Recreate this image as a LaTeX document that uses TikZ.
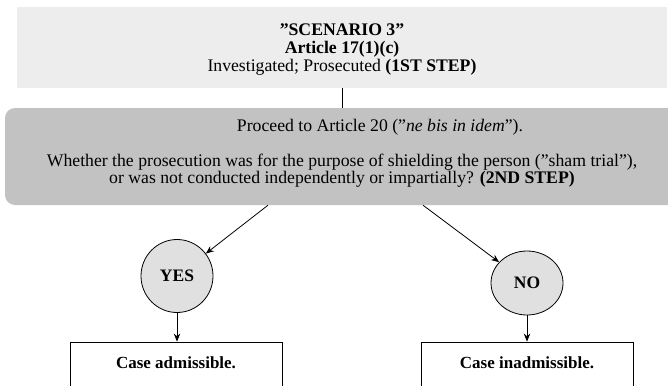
\documentclass[tikz,border=0pt]{standalone}
\usepackage{fontspec}
% plain mapping keeps the straight double quotes of the source text
\setmainfont[Ligatures=Common]{Liberation Serif}
\usetikzlibrary{arrows.meta,shapes.geometric}
\definecolor{paleband}{HTML}{EDEDED}
\definecolor{stepgray}{HTML}{C2C2C2}
\definecolor{answerfill}{HTML}{E0E0E0}
\begin{document}
\begin{tikzpicture}[x=1pt,y=-1pt,
  txt/.style={font=\fontsize{17.7}{16}\selectfont, inner sep=0pt, align=center},
  headband/.style={fill=paleband, draw=none, minimum width=650pt, minimum height=81pt, inner sep=0pt},
  stepband/.style={fill=stepgray, draw=none, rounded corners=10pt, minimum width=674pt, minimum height=97pt, inner sep=0pt},
  answer/.style={ellipse, fill=answerfill, draw=black, line width=0.8pt, inner sep=0pt,
    font=\fontsize{17.5}{16}\selectfont\bfseries},
  outcome/.style={rectangle, draw=black, line width=0.8pt, fill=white, minimum width=212pt, minimum height=80pt, inner sep=0pt},
  link/.style={draw=black, line width=0.8pt},
  arrow/.style={link, -{Stealth[length=8pt,width=6.5pt]}}]
\useasboundingbox (0,0) rectangle (668,385);
\clip (0,0) rectangle (668,385);

% first step band
\node[headband] (top) at (342,47.5) {};
\node[txt, font=\fontsize{17.7}{18}\selectfont] (toptext) at (342,50)
  {\textbf{"SCENARIO 3"}\\ \textbf{Article 17(1)(c)}\\ Investigated; Prosecuted \textbf{(1ST STEP)}};

% second step band
\node[stepband] (mid) at (342,156.5) {};
\node[txt] (midone) at (380,127) {Proceed to Article 20 ("\textit{ne bis in idem}").};
\node[txt] (midtwo) at (342,171)
  {Whether the prosecution was for the purpose of shielding the person ("sham trial"),\\
   or was not conducted independently or impartially? \textbf{(2ND STEP)}};

\draw[link] (top.south) -- (mid.north);

% answers
\node[answer, minimum width=72pt, minimum height=73pt] (yes) at (177,276) {YES};
\node[answer, minimum width=72pt, minimum height=64pt] (no) at (527,283) {NO};

\coordinate (yesfrom) at ([xshift=-74pt]mid.south);
\coordinate (nofrom) at ([xshift=81pt]mid.south);
\draw[arrow] (yesfrom) -- (yes);
\draw[arrow] (nofrom) -- (no);

% outcomes
\node[outcome] (admit) at (176,382) {};
\node[outcome] (inadmit) at (527,382) {};
\node[txt, font=\fontsize{17}{16}\selectfont\bfseries] (admittext) at (176,363) {Case admissible.};
\node[txt, font=\fontsize{17}{16}\selectfont\bfseries] (inadmittext) at (527,363) {Case inadmissible.};

\draw[arrow] (yes) -- (admit.north -| yes);
\draw[arrow] (no) -- (inadmit.north -| no);
\end{tikzpicture}
\end{document}
